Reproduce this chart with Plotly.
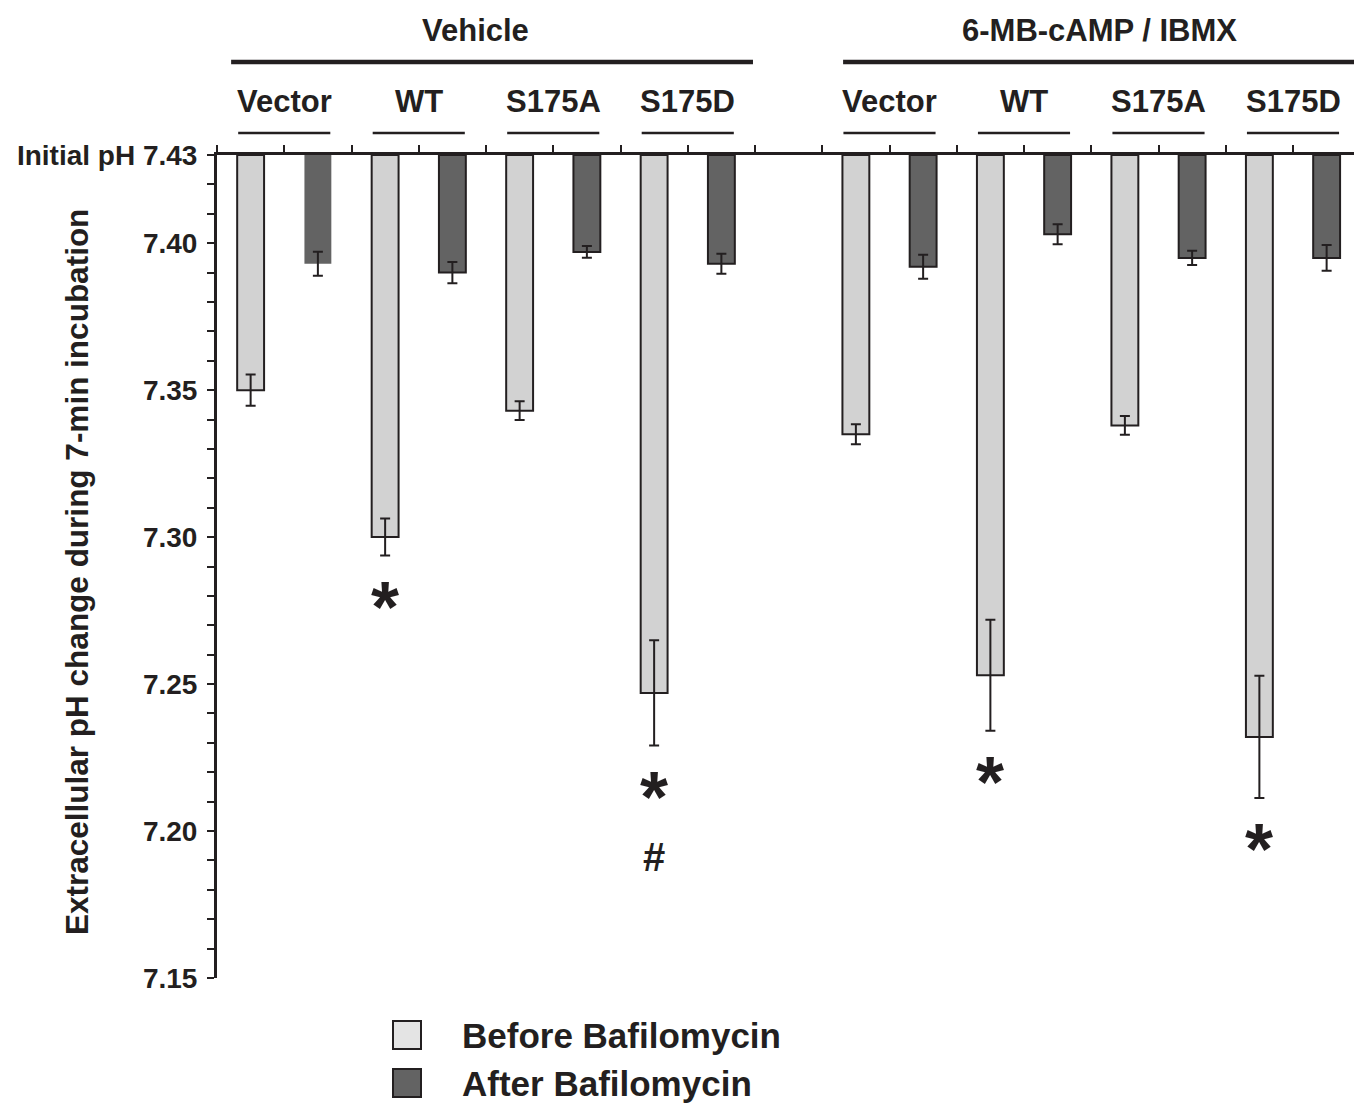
import plotly.graph_objects as go

# ---------------- data ----------------
groups = ["Vehicle", "6-MB-cAMP / IBMX"]
constructs = ["Vector", "WT", "S175A", "S175D"]
conditions = ["Before Bafilomycin", "After Bafilomycin"]
initial_ph = 7.43

before_vehicle = [7.350, 7.300, 7.343, 7.247]
before_vehicle_err = [0.0053, 0.0063, 0.0032, 0.0179]
after_vehicle = [7.393, 7.390, 7.397, 7.393]
after_vehicle_err = [0.0041, 0.0036, 0.0020, 0.0034]

before_camp = [7.335, 7.253, 7.338, 7.232]
before_camp_err = [0.0034, 0.0189, 0.0032, 0.0208]
after_camp = [7.392, 7.403, 7.395, 7.395]
after_camp_err = [0.0041, 0.0034, 0.0024, 0.0044]

labeled_ticks = [7.15, 7.20, 7.25, 7.30, 7.35, 7.40]
initial_label = "Initial pH 7.43"

star_vehicle = ["", "*", "", "*"]
star_camp = ["", "*", "", "*"]
hash_vehicle = ["", "", "", "#"]
hash_camp = ["", "", "", ""]

# ---------------- layout constants ----------------
FW, FH = 1354, 1104
ML, MT, MB = 217, 155, 126
PW = FW - ML
PH = FH - MT - MB
SLOT = 67.25
XMAX = PW / SLOT
YMIN = 7.15
INK = "#231f20"
FONT = "Liberation Sans, Arial, Helvetica, sans-serif"
LIGHT = "#d2d2d2"
DARK = "#636363"
HEADER_CENTER = [3.84, 13.13]
HEADER_LINE_START = [0.21, 9.31]


def px(slot):
    return slot / XMAX


def py(pixel_y):
    return (FH - MB - pixel_y) / PH


before = [before_vehicle, before_camp]
before_err = [before_vehicle_err, before_camp_err]
after = [after_vehicle, after_camp]
after_err = [after_vehicle_err, after_camp_err]
stars = [star_vehicle, star_camp]
hashes = [hash_vehicle, hash_camp]

gstart = [0, 9]
xb, yb, eb, xa, ya, ea = [], [], [], [], [], []
for g in range(len(groups)):
    for j in range(len(constructs)):
        xb.append(gstart[g] + 2 * j + 0.5)
        yb.append(before[g][j])
        eb.append(before_err[g][j])
        xa.append(gstart[g] + 2 * j + 1.5)
        ya.append(after[g][j])
        ea.append(after_err[g][j])

fig = go.Figure()
fig.add_trace(go.Bar(
    x=xb, y=[v - initial_ph for v in yb], base=initial_ph, width=0.4,
    marker=dict(color=LIGHT, line=dict(color=INK, width=2)),
    name=conditions[0], showlegend=False))
fig.add_trace(go.Bar(
    x=xa, y=[v - initial_ph for v in ya], base=initial_ph, width=0.4,
    marker=dict(color=DARK, line=dict(color=INK, width=[0] + [2] * (len(xa) - 1))),
    name=conditions[1], showlegend=False))

for xs, ys, es in [(xb, yb, eb), (xa, ya, ea)]:
    fig.add_trace(go.Scatter(
        x=xs, y=ys, mode="markers",
        marker=dict(size=1, color="rgba(0,0,0,0)"),
        error_y=dict(type="data", array=es, color=INK, thickness=2, width=5),
        showlegend=False, hoverinfo="skip"))

annotations = []
shapes = []

# significance marks
for g in range(len(groups)):
    for j in range(len(constructs)):
        x = gstart[g] + 2 * j + 0.5
        low = before[g][j] - before_err[g][j]
        if stars[g][j]:
            annotations.append(dict(
                x=x, y=low - 0.0137, xref="x", yref="y", text=stars[g][j],
                showarrow=False, xanchor="center", yanchor="middle", yshift=-11,
                font=dict(family=FONT, size=72, color=INK, weight="bold")))
        if hashes[g][j]:
            annotations.append(dict(
                x=x, y=low - 0.038, xref="x", yref="y", text="<b>" + hashes[g][j] + "</b>",
                showarrow=False, xanchor="center", yanchor="middle",
                font=dict(family=FONT, size=40, color=INK, weight="bold")))

# group headers and lines
for g, name in enumerate(groups):
    annotations.append(dict(
        x=px(HEADER_CENTER[g]), y=py(30), xref="paper", yref="paper",
        text=name, showarrow=False, xanchor="center", yanchor="middle",
        font=dict(family=FONT, size=31, color=INK, weight="bold")))
    shapes.append(dict(type="line", xref="paper", yref="paper",
                       x0=px(HEADER_LINE_START[g]), x1=px(gstart[g] + 7.97),
                       y0=py(62), y1=py(62), line=dict(color=INK, width=4.5)))
    for j, c in enumerate(constructs):
        cx = gstart[g] + 2 * j + 1
        annotations.append(dict(
            x=px(cx), y=py(102), xref="paper", yref="paper", text=c,
            showarrow=False, xanchor="center", yanchor="middle",
            font=dict(family=FONT, size=31, color=INK, weight="bold")))
        shapes.append(dict(type="line", xref="paper", yref="paper",
                           x0=px(cx - 0.685), x1=px(cx + 0.685),
                           y0=py(133), y1=py(133), line=dict(color=INK, width=2.5)))

# y-axis title
annotations.append(dict(
    x=(77 - ML) / PW, y=py(572), xref="paper", yref="paper",
    text="Extracellular pH change during 7-min incubation",
    textangle=-90, showarrow=False, xanchor="center", yanchor="middle",
    font=dict(family=FONT, size=31.5, color=INK, weight="bold")))

# legend
for k, (cond, col, cy) in enumerate([(conditions[0], "#e4e4e4", 1035),
                                      (conditions[1], DARK, 1083)]):
    shapes.append(dict(type="rect", xref="paper", yref="paper",
                       x0=(393 - ML) / PW, x1=(421 - ML) / PW,
                       y0=py(cy - 14), y1=py(cy + 14),
                       fillcolor=col, line=dict(color=INK, width=2)))
    annotations.append(dict(
        x=(460 - ML) / PW, y=py(cy), xref="paper", yref="paper", text=cond,
        showarrow=False, xanchor="left", yanchor="middle",
        font=dict(family=FONT, size=35, color=INK, weight="bold")))

tickvals = [round(YMIN + 0.01 * i, 2) for i in range(int(round((initial_ph - YMIN) / 0.01)) + 1)]
ticktext = []
for t in tickvals:
    if abs(t - initial_ph) < 1e-9:
        ticktext.append(initial_label)
    elif any(abs(t - m) < 1e-9 for m in labeled_ticks):
        ticktext.append(f"{t:.2f}")
    else:
        ticktext.append("")

fig.update_layout(
    width=FW, height=FH,
    margin=dict(l=ML, r=0, t=MT, b=MB, autoexpand=False),
    paper_bgcolor="white", plot_bgcolor="white",
    showlegend=False, barmode="overlay",
    annotations=annotations, shapes=shapes,
    xaxis=dict(range=[0, XMAX], side="top", showline=True, linewidth=3, linecolor=INK,
               ticks="outside", tickvals=list(range(0, 17)), ticklen=7, tickwidth=2,
               tickcolor=INK, showticklabels=False, showgrid=False, zeroline=False,
               fixedrange=True),
    yaxis=dict(range=[YMIN, initial_ph], showline=True, linewidth=3, linecolor=INK,
               ticks="outside", tickvals=tickvals, ticktext=ticktext, ticklen=7,
               tickwidth=2, tickcolor=INK, showgrid=False, zeroline=False,
               ticklabelstandoff=4,
               tickfont=dict(family=FONT, size=28, color=INK, weight="bold"),
               fixedrange=True),
)

fig.write_html("out.html", config={"displayModeBar": False},
               post_script="document.body.style.margin='0px';")
